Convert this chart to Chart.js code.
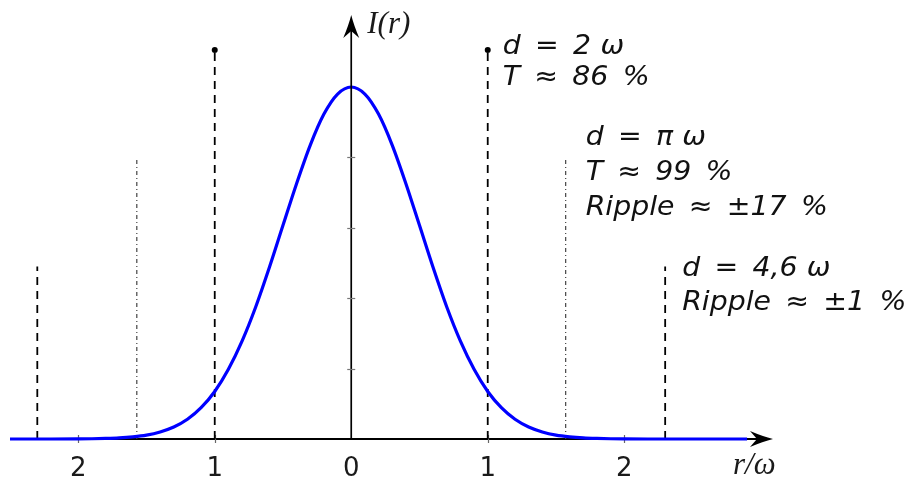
<!DOCTYPE html>
<html>
<head>
<meta charset="utf-8">
<script src="https://cdn.jsdelivr.net/npm/chart.js@4.4.1/dist/chart.umd.min.js"></script>
<style>
  html, body { margin: 0; background: #fff; }
  canvas { display: block; }
</style>
</head>
<body>
<canvas id="beam" width="912" height="479"></canvas>
<script>
// radial position r/ω and normalised intensity along the beam profile
const radius = [-2.5, -2.2, -2.0, -1.9, -1.8, -1.7, -1.6, -1.5, -1.4, -1.3, -1.2, -1.1,
  -1.0, -0.9, -0.8, -0.7, -0.6, -0.5, -0.4, -0.3, -0.2, -0.1, 0,
  0.1, 0.2, 0.3, 0.4, 0.5, 0.6, 0.7, 0.8, 0.9, 1.0,
  1.1, 1.2, 1.3, 1.4, 1.5, 1.6, 1.7, 1.8, 1.9, 2.0, 2.2, 2.5, 2.9];
const intensity = [0, 0, 0.0003, 0.0007, 0.0015, 0.003, 0.006, 0.011, 0.020, 0.034, 0.056, 0.089,
  0.135, 0.198, 0.278, 0.375, 0.487, 0.607, 0.726, 0.835, 0.923, 0.980, 1.0,
  0.980, 0.923, 0.835, 0.726, 0.607, 0.487, 0.375, 0.278, 0.198, 0.135,
  0.089, 0.056, 0.034, 0.020, 0.011, 0.006, 0.003, 0.0015, 0.0007, 0.0003, 0, 0, 0];

// aperture edges (d/2 in units of ω) and the height of each marker line
const apertureR = [1, 1.571, 2.3];
const apertureTop = [1.105, 0.80, 0.49];

const xTicks = [-2, -1, 0, 1, 2];
const yTicks = [0.2, 0.4, 0.6, 0.8];

// three-per-em space before ω keeps the unit a little tighter than the other gaps
const apertureNotes = [
  ["d = 2\u2004ω", "T ≈ 86 %"],
  ["d = π\u2004ω", "T ≈ 99 %", "Ripple ≈ ±17 %"],
  ["d = 4,6\u2004ω", "Ripple ≈ ±1 %"]
];

const markerStyle = [
  { color: "#000", width: 1.8, dash: [8, 6], dot: true },
  { color: "#444", width: 1.2, dash: [4, 3, 1, 3], dot: false },
  { color: "#000", width: 1.8, dash: [8, 6], dot: false }
];

const datasets = [{
  data: radius.map((r, i) => ({ x: r, y: intensity[i] })),
  borderColor: "#0000ff",
  borderWidth: 3.2,
  cubicInterpolationMode: "monotone",
  pointRadius: 0,
  clip: false,
  order: 0
}];

apertureR.forEach((r, i) => {
  const s = markerStyle[i];
  [-r, r].forEach(edge => {
    datasets.push({
      data: [{ x: edge, y: 0 }, { x: edge, y: apertureTop[i] }],
      borderColor: s.color,
      borderWidth: s.width,
      borderDash: s.dash,
      pointRadius: s.dot ? [0, 3] : 0,
      pointBackgroundColor: s.color,
      pointBorderWidth: 0,
      clip: false,
      order: 1
    });
  });
});

function arrowHead(ctx, x, y, angle) {
  ctx.save();
  ctx.translate(x, y);
  ctx.rotate(angle);
  ctx.beginPath();
  ctx.moveTo(0, 0);
  ctx.quadraticCurveTo(-10, -2.5, -23, -8);
  ctx.lineTo(-16, 0);
  ctx.lineTo(-23, 8);
  ctx.quadraticCurveTo(-10, 2.5, 0, 0);
  ctx.closePath();
  ctx.fillStyle = "#000";
  ctx.fill();
  ctx.restore();
}

const axesPlugin = {
  id: "axesPlugin",
  beforeDatasetsDraw(chart) {
    const { ctx, scales: { x, y } } = chart;
    const y0 = y.getPixelForValue(0);
    ctx.save();
    ctx.strokeStyle = "#000";
    ctx.lineWidth = 2;
    ctx.beginPath();
    ctx.moveTo(x.left, y0);
    ctx.lineTo(x.right - 12, y0);
    ctx.stroke();
    ctx.strokeStyle = "#666";
    ctx.lineWidth = 1.2;
    xTicks.forEach(v => {
      if (v === 0) return;
      const px = Math.round(x.getPixelForValue(v)) + 0.5;
      ctx.beginPath();
      ctx.moveTo(px, y0 - 4);
      ctx.lineTo(px, y0 + 4);
      ctx.stroke();
    });
    ctx.restore();
  },
  afterDatasetsDraw(chart) {
    const { ctx, scales: { x, y } } = chart;
    const x0 = x.getPixelForValue(0);
    const y0 = y.getPixelForValue(0);
    ctx.save();
    ctx.strokeStyle = "#000";
    ctx.lineWidth = 1.7;
    ctx.beginPath();
    ctx.moveTo(x0, y0);
    ctx.lineTo(x0, y.top + 12);
    ctx.stroke();
    ctx.strokeStyle = "#777";
    ctx.lineWidth = 1.2;
    yTicks.forEach(v => {
      const py = Math.round(y.getPixelForValue(v)) + 0.5;
      ctx.beginPath();
      ctx.moveTo(x0 - 4, py);
      ctx.lineTo(x0 + 4, py);
      ctx.stroke();
    });
    arrowHead(ctx, x.right, y0, 0);
    arrowHead(ctx, x0, y.top, -Math.PI / 2);

    // tick labels show |r|/ω
    ctx.fillStyle = "#1a1a1a";
    ctx.font = '26px "DejaVu Sans"';
    ctx.textAlign = "center";
    ctx.textBaseline = "alphabetic";
    xTicks.forEach(v => ctx.fillText(String(Math.abs(v)), x.getPixelForValue(v), y0 + 37));

    ctx.font = 'italic 31px "Liberation Serif"';
    ctx.textAlign = "left";
    ctx.fillText("I(r)", x0 + 16, y.top + 18);
    ctx.fillText("r/ω", x.right - 40, y0 + 35);

    // aperture annotations beside the right-hand markers
    const offsets = [15, 20, 17];
    const firstBase = [54, 145, 276];
    const lineGap = [31, 35, 34];
    ctx.font = 'italic 27px "DejaVu Sans"';
    ctx.wordSpacing = "5px";
    ctx.fillStyle = "#111";
    apertureNotes.forEach((lines, i) => {
      const left = x.getPixelForValue(apertureR[i]) + offsets[i];
      lines.forEach((t, j) => {
        ctx.save();
        ctx.translate(left, firstBase[i] + j * lineGap[i]);
        ctx.scale(1.05, 1);
        ctx.fillText(t, 0, 0);
        ctx.restore();
      });
    });
    ctx.restore();
  }
};

new Chart(document.getElementById("beam"), {
  type: "line",
  data: { datasets },
  options: {
    responsive: false,
    animation: false,
    layout: { padding: { left: 10, right: 139, top: 15, bottom: 40 } },
    plugins: { legend: { display: false }, tooltip: { enabled: false } },
    scales: {
      x: { type: "linear", min: -2.5, max: 3.09, display: false },
      y: { min: 0, max: 1.2045, display: false }
    }
  },
  plugins: [axesPlugin]
});
</script>
</body>
</html>
